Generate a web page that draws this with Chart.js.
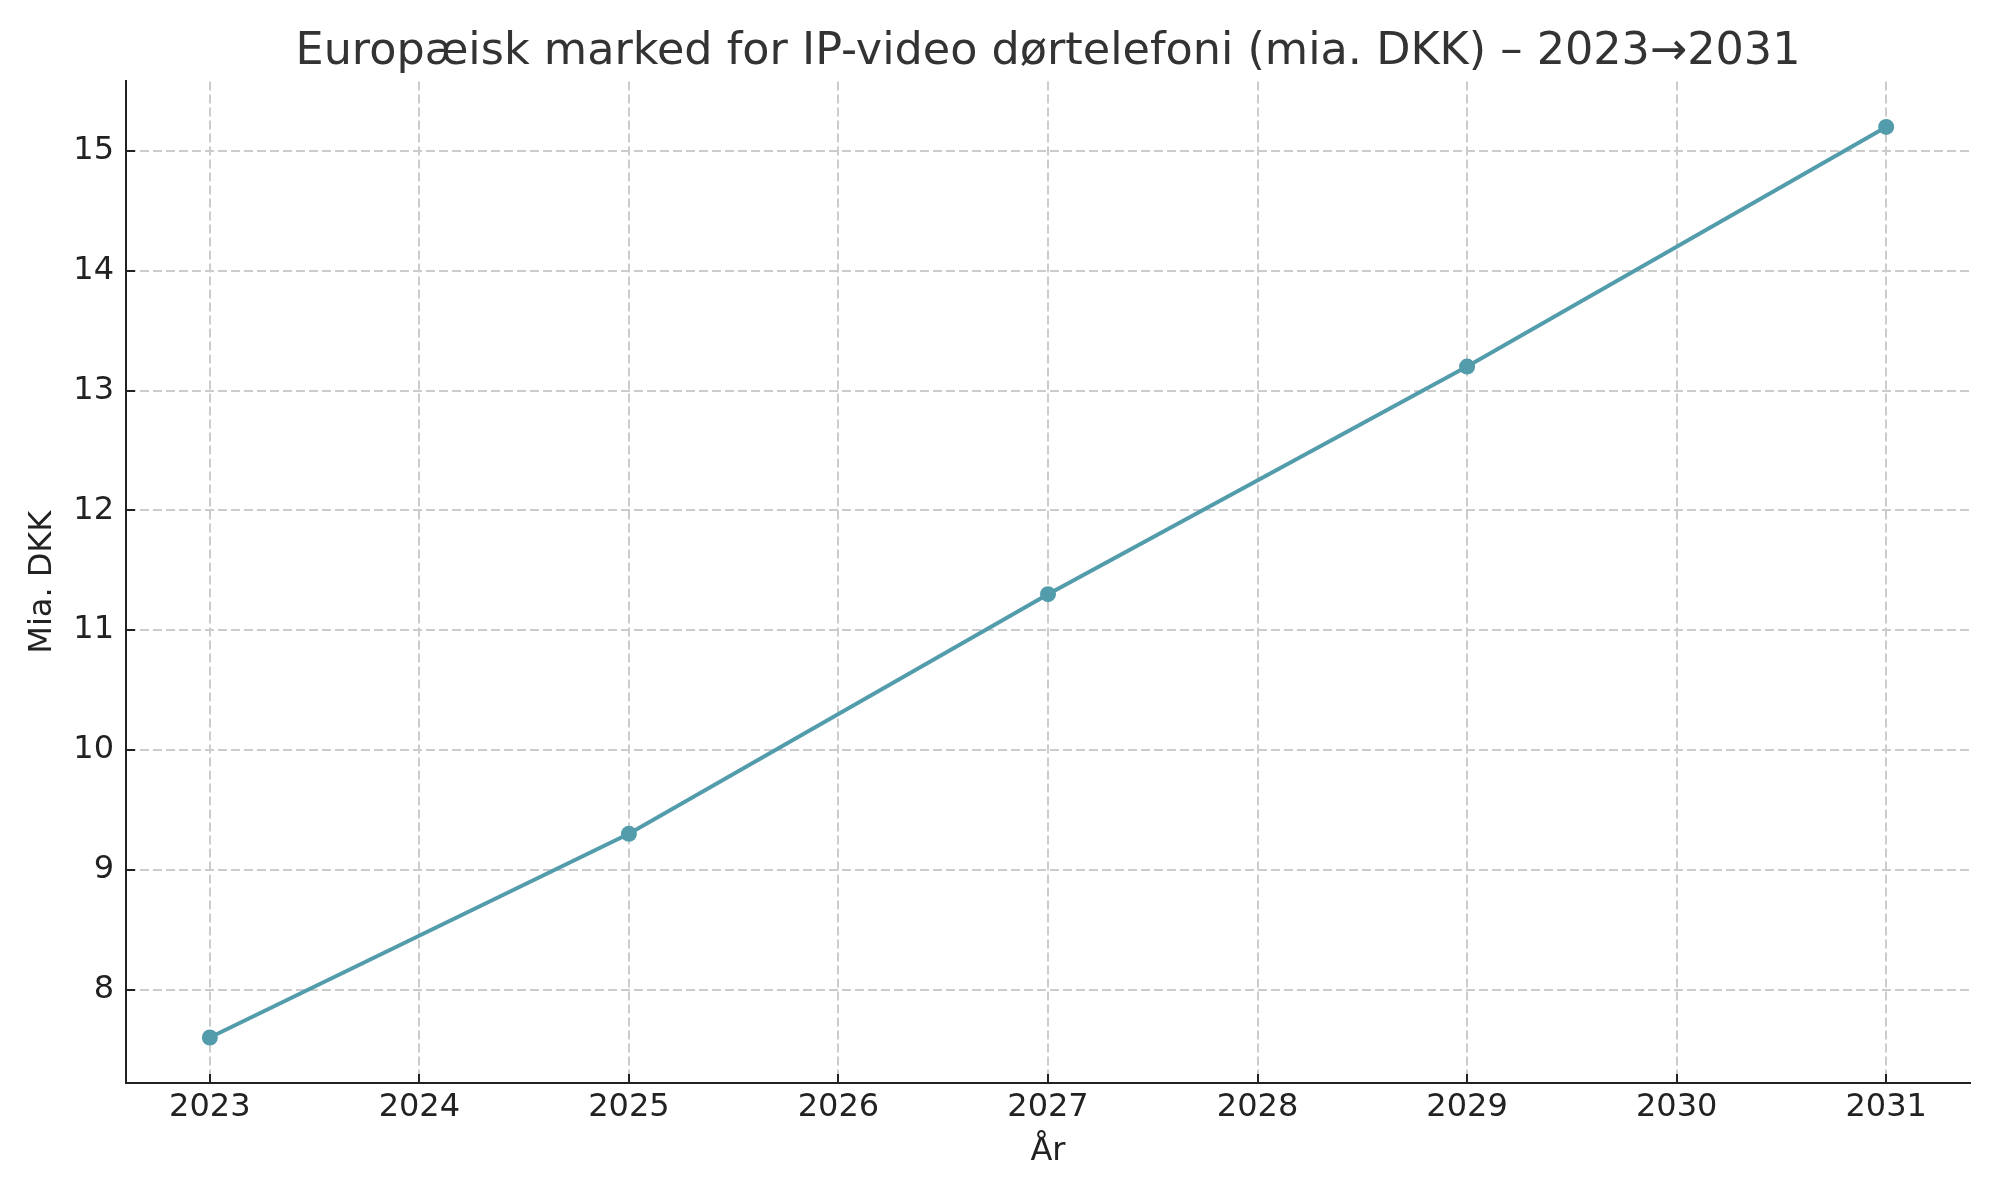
<!DOCTYPE html>
<html lang="da">
<head>
<meta charset="utf-8">
<title>Europæisk marked for IP-video dørtelefoni</title>
<script src="https://cdn.jsdelivr.net/npm/chart.js@4.4.1/dist/chart.umd.min.js"></script>
<style>
  html, body { margin: 0; padding: 0; background: #fff; }
  #wrap { width: 2000px; height: 1200px; }
</style>
</head>
<body>
<div id="wrap"><canvas id="marketChart" width="2000" height="1200"></canvas></div>
<script>
  // data
  var years = [2023, 2025, 2027, 2029, 2031];
  var values = [7.6, 9.3, 11.3, 13.2, 15.2];
  var xTicks = [2023, 2024, 2025, 2026, 2027, 2028, 2029, 2030, 2031];
  var yTicks = [8, 9, 10, 11, 12, 13, 14, 15];

  var lineColor = '#539cab';
  var gridColor = '#cccccc';
  var axisColor = '#222222';
  var fontFamily = "'DejaVu Sans', sans-serif";

  var points = years.map(function (y, i) { return { x: y, y: values[i] }; });

  var ctx = document.getElementById('marketChart').getContext('2d');

  new Chart(ctx, {
    type: 'line',
    data: {
      datasets: [{
        label: 'Mia. DKK',
        data: points,
        borderColor: lineColor,
        backgroundColor: lineColor,
        borderWidth: 4,
        pointRadius: 8,
        pointBorderWidth: 0,
        pointBackgroundColor: lineColor,
        tension: 0,
        fill: false
      }]
    },
    options: {
      responsive: false,
      devicePixelRatio: 1,
      animation: false,
      layout: { padding: { left: 0, right: 30, top: 0, bottom: 0 } },
      plugins: {
        legend: { display: false },
        tooltip: { enabled: false },
        title: {
          display: true,
          text: 'Europæisk marked for IP-video dørtelefoni (mia. DKK) – 2023→2031',
          fullSize: false,
          color: '#333333',
          font: { family: fontFamily, size: 44.5, weight: 'normal', lineHeight: 1.2 },
          padding: { top: 26, bottom: 2 }
        }
      },
      scales: {
        x: {
          type: 'linear',
          min: 2022.6,
          max: 2031.4,
          afterBuildTicks: function (scale) {
            scale.ticks = xTicks.map(function (v) { return { value: v }; });
          },
          afterFit: function (scale) { scale.height = 117; },
          ticks: {
            color: axisColor,
            padding: 14,
            maxRotation: 0,
            font: { family: fontFamily, size: 32, lineHeight: 1.2 },
            callback: function (v) { return String(v); }
          },
          grid: {
            color: gridColor,
            lineWidth: 2,
            drawTicks: true,
            tickLength: -9,
            tickColor: axisColor,
            tickWidth: 2,
            tickBorderDash: []
          },
          border: { display: true, color: axisColor, width: 2, dash: [9, 4] },
          title: {
            display: true,
            text: 'År',
            color: axisColor,
            font: { family: fontFamily, size: 32, lineHeight: 1.2 },
            padding: { top: 0, bottom: 29 }
          }
        },
        y: {
          type: 'linear',
          min: 7.22,
          max: 15.58,
          afterBuildTicks: function (scale) {
            scale.ticks = yTicks.map(function (v) { return { value: v }; });
          },
          afterFit: function (scale) { scale.width = 126; },
          ticks: {
            color: axisColor,
            padding: 21,
            font: { family: fontFamily, size: 32, lineHeight: 1.2 },
            callback: function (v) { return String(v); }
          },
          grid: {
            color: gridColor,
            lineWidth: 2,
            drawTicks: true,
            tickLength: -9,
            tickColor: axisColor,
            tickWidth: 2,
            tickBorderDash: []
          },
          border: { display: true, color: axisColor, width: 2, dash: [9, 4] },
          title: {
            display: true,
            text: 'Mia. DKK',
            color: axisColor,
            font: { family: fontFamily, size: 32, lineHeight: 1.2 },
            padding: { top: 23, bottom: 0 }
          }
        }
      }
    }
  });
</script>
</body>
</html>
